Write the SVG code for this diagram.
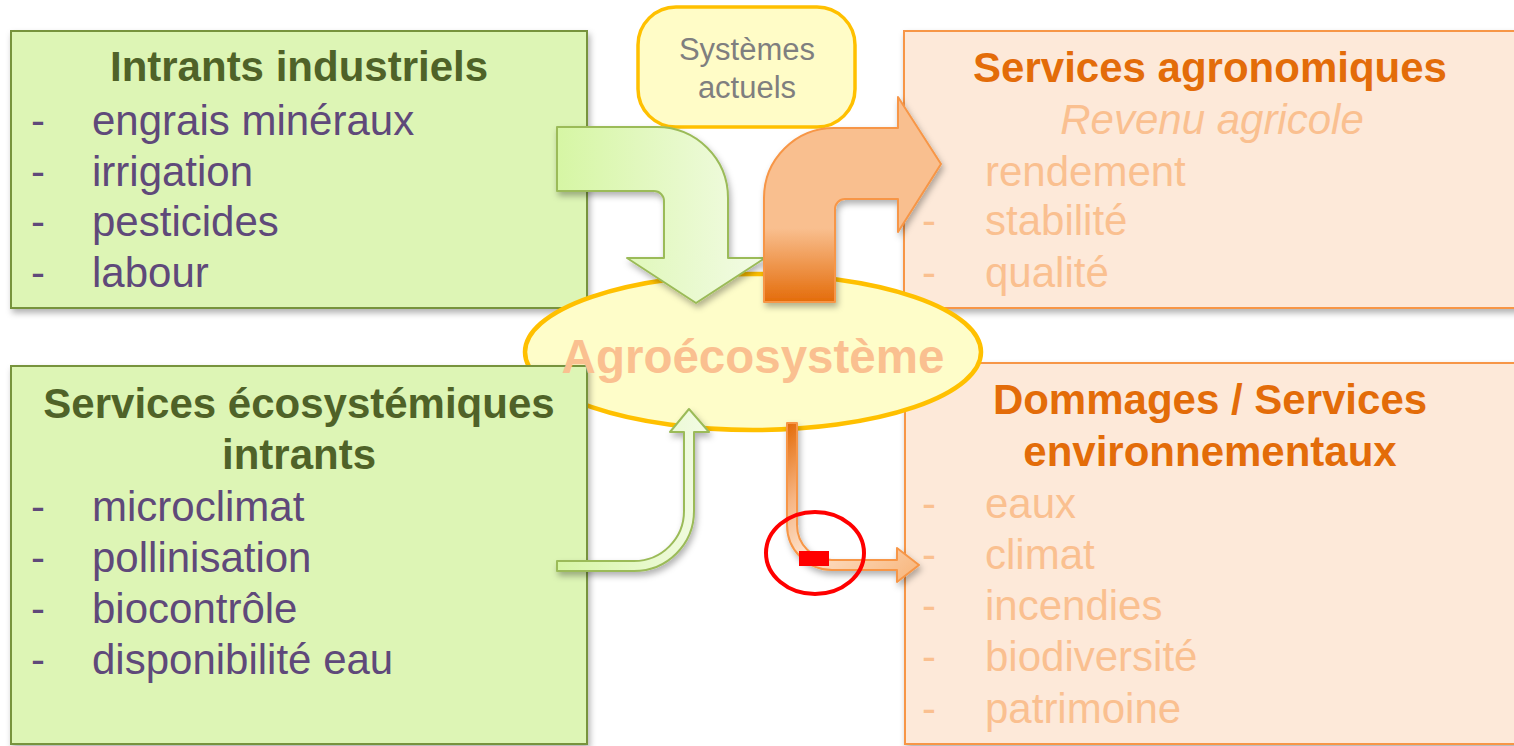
<svg xmlns="http://www.w3.org/2000/svg" width="1514" height="746" viewBox="0 0 1514 746">
  <style>
    text { font-family: "Liberation Sans", Arial, sans-serif; }
    .box-green { fill: #ddf5b5; stroke: #77933c; stroke-width: 2; }
    .box-orange { fill: #fde9d9; stroke: #f79646; stroke-width: 2; }
    .title-green { font-size: 42px; font-weight: bold; fill: #4f6228; text-anchor: middle; }
    .title-orange { font-size: 42px; font-weight: bold; fill: #e36c09; text-anchor: middle; }
    .item-purple { font-size: 42px; fill: #5f497a; }
    .item-faded { font-size: 42px; fill: #fac090; }
    .italic-faded { font-size: 42px; font-style: italic; fill: #fac090; text-anchor: middle; }
    .arrow-green { stroke: #9bbb59; stroke-width: 2; stroke-linejoin: round; }
    .arrow-orange { stroke: #f79646; stroke-width: 2; stroke-linejoin: round; }
  </style>
  <defs>
    <filter id="shadow" x="-10%" y="-10%" width="125%" height="130%">
      <feDropShadow dx="2" dy="4" stdDeviation="3" flood-color="#000000" flood-opacity="0.3"/>
    </filter>
    <linearGradient id="gradGreenBig" gradientUnits="userSpaceOnUse" x1="557" y1="0" x2="766" y2="0">
      <stop offset="0" stop-color="#d6f6a4"/>
      <stop offset="1" stop-color="#f3fbe6"/>
    </linearGradient>
    <linearGradient id="gradGreenSmall" gradientUnits="userSpaceOnUse" x1="557" y1="0" x2="709" y2="0">
      <stop offset="0" stop-color="#d6f6a4"/>
      <stop offset="1" stop-color="#f3fbe6"/>
    </linearGradient>
    <linearGradient id="gradOrangeBig" gradientUnits="userSpaceOnUse" x1="0" y1="97" x2="0" y2="302">
      <stop offset="0" stop-color="#f9bf8f"/>
      <stop offset="0.64" stop-color="#f9bf8f"/>
      <stop offset="1" stop-color="#e46c0a"/>
    </linearGradient>
    <linearGradient id="gradOrangeSmall" gradientUnits="userSpaceOnUse" x1="790" y1="423" x2="919" y2="570">
      <stop offset="0" stop-color="#e46c0a"/>
      <stop offset="0.3" stop-color="#f6b583"/>
      <stop offset="0.55" stop-color="#fde2cb"/>
      <stop offset="1" stop-color="#f8b880"/>
    </linearGradient>
  </defs>

  <!-- Industrial inputs -->
  <g id="intrants-industriels">
    <rect class="box-green" x="11" y="31" width="576" height="277" filter="url(#shadow)"/>
    <text class="title-green" x="299" y="81">Intrants industriels</text>
    <text class="item-purple" x="31" y="135">-</text>
    <text class="item-purple" x="92" y="135">engrais minéraux</text>
    <text class="item-purple" x="31" y="186">-</text>
    <text class="item-purple" x="92" y="186">irrigation</text>
    <text class="item-purple" x="31" y="236">-</text>
    <text class="item-purple" x="92" y="236">pesticides</text>
    <text class="item-purple" x="31" y="287">-</text>
    <text class="item-purple" x="92" y="287">labour</text>
  </g>

  <!-- Agronomic services -->
  <g id="services-agronomiques">
    <rect class="box-orange" x="904" y="31" width="620" height="277" filter="url(#shadow)"/>
    <text class="title-orange" x="1210" y="82">Services agronomiques</text>
    <text class="italic-faded" x="1212" y="134">Revenu agricole</text>
    <text class="item-faded" x="985" y="186">rendement</text>
    <text class="item-faded" x="922" y="235">-</text>
    <text class="item-faded" x="985" y="235">stabilité</text>
    <text class="item-faded" x="922" y="287">-</text>
    <text class="item-faded" x="985" y="287">qualité</text>
  </g>

  <!-- Environmental damages / services -->
  <g id="dommages-services">
    <rect class="box-orange" x="905" y="363" width="620" height="381" filter="url(#shadow)"/>
    <text class="title-orange" x="1210" y="414">Dommages / Services</text>
    <text class="title-orange" x="1210" y="466">environnementaux</text>
    <text class="item-faded" x="922" y="518">-</text>
    <text class="item-faded" x="985" y="518">eaux</text>
    <text class="item-faded" x="922" y="569">-</text>
    <text class="item-faded" x="985" y="569">climat</text>
    <text class="item-faded" x="922" y="620">-</text>
    <text class="item-faded" x="985" y="620">incendies</text>
    <text class="item-faded" x="922" y="671">-</text>
    <text class="item-faded" x="985" y="671">biodiversité</text>
    <text class="item-faded" x="922" y="723">-</text>
    <text class="item-faded" x="985" y="723">patrimoine</text>
  </g>

  <!-- Central agroecosystem -->
  <g id="agroecosysteme">
    <ellipse cx="753" cy="352" rx="228" ry="78" fill="#fefdc9" stroke="#ffc000" stroke-width="4.5"/>
  </g>

  <!-- Ecosystem services as inputs -->
  <g id="services-ecosystemiques">
    <rect class="box-green" x="11" y="366" width="576" height="378" filter="url(#shadow)"/>
    <text class="title-green" x="299" y="418">Services écosystémiques</text>
    <text class="title-green" x="299" y="469">intrants</text>
    <text class="item-purple" x="31" y="521">-</text>
    <text class="item-purple" x="92" y="521">microclimat</text>
    <text class="item-purple" x="31" y="572">-</text>
    <text class="item-purple" x="92" y="572">pollinisation</text>
    <text class="item-purple" x="31" y="623">-</text>
    <text class="item-purple" x="92" y="623">biocontrôle</text>
    <text class="item-purple" x="31" y="674">-</text>
    <text class="item-purple" x="92" y="674">disponibilité eau</text>
  </g>

  <g id="agroecosysteme-label">
    <text x="753" y="373" font-size="47.5" font-weight="bold" fill="#fac090" text-anchor="middle">Agroécosystème</text>
  </g>

  <!-- Current systems label -->
  <g id="systemes-actuels">
    <rect x="638" y="7" width="217" height="120" rx="38" ry="38" fill="#fffcc7" stroke="#ffc000" stroke-width="3.5"/>
    <text x="747" y="60" font-size="31" fill="#7f7f7f" text-anchor="middle">Systèmes</text>
    <text x="747" y="98" font-size="31" fill="#7f7f7f" text-anchor="middle">actuels</text>
  </g>

  <!-- Flow arrows -->
  <g id="connectors">
    <path class="arrow-green" fill="url(#gradGreenBig)" filter="url(#shadow)"
          d="M557,127 L657,127 A71,71 0 0 1 728,198 L728,258 L765,258 L696,303 L627,258 L664,258 L664,201 A10,10 0 0 0 654,191 L557,191 Z"/>
    <path class="arrow-orange" fill="url(#gradOrangeBig)" filter="url(#shadow)"
          d="M764,302 L764,198 A70,70 0 0 1 834,128 L898,128 L898,97 L941,164 L898,232 L898,199 L845,199 A10,10 0 0 0 835,209 L835,302 Z"/>
    <path class="arrow-green" fill="url(#gradGreenSmall)" filter="url(#shadow)"
          d="M557,561 L634,561 A50,50 0 0 0 684,511 L684,432 L670,432 L689,409 L709,432 L694,432 L694,511 A60,60 0 0 1 634,571 L557,571 Z"/>
    <path class="arrow-orange" fill="url(#gradOrangeSmall)" filter="url(#shadow)"
          d="M787,423 L797,423 L797,525 A35,35 0 0 0 832,560 L897,560 L897,548 L919,565 L897,582 L897,570 L832,570 A45,45 0 0 1 787,525 Z"/>
  </g>

  <!-- Negative sign on the environmental flow -->
  <g id="signe-negatif">
    <ellipse cx="815" cy="553" rx="49" ry="41" fill="none" stroke="#ff0000" stroke-width="4"/>
    <rect x="799" y="551" width="30" height="15" fill="#ff0000"/>
  </g>
</svg>
